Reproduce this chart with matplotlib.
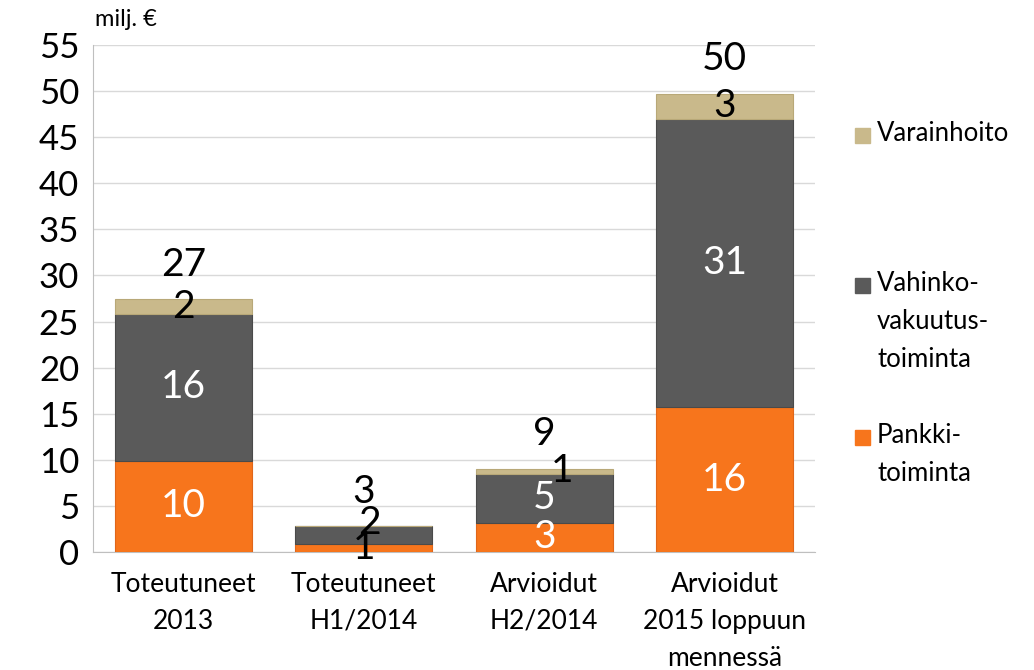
import matplotlib.pyplot as plt
from matplotlib.patches import Rectangle
import numpy as np

plt.rcParams['font.family'] = ['Lato', 'DejaVu Sans']

categories = ["Toteutuneet\n2013", "Toteutuneet\nH1/2014", "Arvioidut\nH2/2014",
              "Arvioidut\n2015 loppuun\nmennessä"]
pankki = [9.9, 0.9, 3.2, 15.7]
vahinko = [15.9, 1.9, 5.3, 31.3]
varain = [1.6, 0.0, 0.5, 2.7]
pankki_lbl = ["10", "1", "3", "16"]
vahinko_lbl = ["16", "2", "5", "31"]
varain_lbl = ["2", "", "1", "3"]
total_lbl = ["27", "3", "9", "50"]
legend_lbl = ["Varainhoito", "Vahinko-\nvakuutus-\ntoiminta", "Pankki-\ntoiminta"]

c_pankki = "#F7751C"
c_vahinko = "#5A5A5A"
c_varain = "#C9B98B"

fig = plt.figure(figsize=(10.34, 6.70), dpi=100)
ax = fig.add_axes([0.090, 0.176, 0.698, 0.757])

x = np.arange(len(categories))
w = 0.76
pankki = np.array(pankki)
vahinko = np.array(vahinko)
varain = np.array(varain)

ax.bar(x, pankki, w, color=c_pankki, edgecolor="#E0661A", linewidth=0.8, zorder=3)
ax.bar(x, vahinko, w, bottom=pankki, color=c_vahinko, edgecolor="#4A4A4A", linewidth=0.8, zorder=3)
ax.bar(x, varain, w, bottom=pankki + vahinko, color=c_varain, edgecolor="#B8A878", linewidth=0.8, zorder=3)

tot = pankki + vahinko + varain
fs = 28
for i in range(len(x)):
    # pankki
    if pankki[i] > 2:
        ax.text(x[i], pankki[i] / 2, pankki_lbl[i], ha="center", va="center",
                color="white", fontsize=fs, zorder=5)
    else:
        ax.annotate(pankki_lbl[i], (x[i], pankki[i] / 2), xytext=(0, 0),
                    textcoords="offset points", ha="center", va="center",
                    fontsize=fs, color="black", zorder=5)
    # vahinko
    mid = pankki[i] + vahinko[i] / 2
    if vahinko[i] > 3:
        ax.text(x[i], mid, vahinko_lbl[i], ha="center", va="center",
                color="white", fontsize=fs, zorder=5)
    else:
        ax.annotate(vahinko_lbl[i], (x[i], mid), xytext=(4, 9),
                    textcoords="offset points", ha="center", va="center",
                    fontsize=fs, color="black", zorder=5)
    # varain
    if varain_lbl[i]:
        top = pankki[i] + vahinko[i] + varain[i] / 2
        dx = 13 if varain[i] < 1 else 0
        ax.annotate(varain_lbl[i], (x[i], top), xytext=(dx, 0),
                    textcoords="offset points", ha="center", va="center",
                    fontsize=fs, color="black", zorder=5)
    ax.annotate(total_lbl[i], (x[i], tot[i]), xytext=(0, 25),
                textcoords="offset points", ha="center", va="center",
                fontsize=fs, color="black", zorder=5)

ax.set_ylim(0, 55)
ax.set_xlim(-0.5, 3.5)
ax.set_yticks(np.arange(0, 56, 5))
ax.tick_params(axis="y", labelsize=25, length=0, pad=10)
ax.tick_params(axis="x", labelsize=19, length=0, pad=14)
ax.set_xticks(x)
ax.set_xticklabels(categories, linespacing=1.6)
ax.yaxis.grid(True, color="#D9D9D9", linewidth=1, zorder=0)
for s in ["top", "right"]:
    ax.spines[s].set_visible(False)
for s in ["left", "bottom"]:
    ax.spines[s].set_color("#BFBFBF")

fig.text(0.092, 0.955, "milj. €", fontsize=17, ha="left", va="bottom")

# legend drawn by hand so the square lines up with the first text line
leg_cols = [c_varain, c_vahinko, c_pankki]
leg_y = [1 - 135 / 670, 1 - 285 / 670, 1 - 437 / 670]
sq = 15
for col, lab, yy in zip(leg_cols, legend_lbl, leg_y):
    fig.patches.append(Rectangle((855 / 1034, yy - sq / 2 / 670), sq / 1034, sq / 670,
                                 transform=fig.transFigure, facecolor=col,
                                 edgecolor=col, figure=fig))
    fig.text(877 / 1034, yy + 14 / 670, lab, fontsize=18.5, ha="left", va="top",
             linespacing=1.65)

fig.savefig("out.png", dpi=100)
